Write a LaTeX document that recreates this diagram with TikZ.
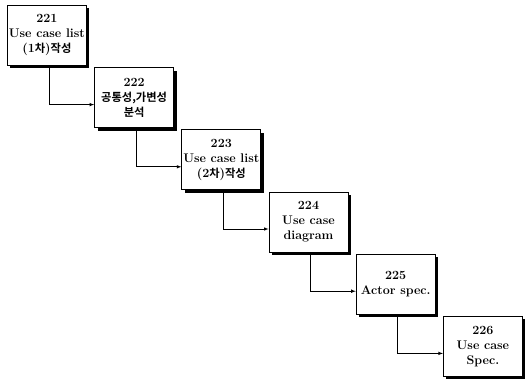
\documentclass[tikz,border=0pt]{standalone}
\usepackage{fontspec}
\newfontfamily\kr{Noto Sans CJK KR}[BoldFont={Noto Sans CJK KR Bold},Scale=0.9]
\usetikzlibrary{arrows,positioning,shadows}

\begin{document}
\begin{tikzpicture}[
  node distance=1.4pt and 7.4pt,
  task/.style={draw,line width=0.8pt,fill=white,minimum width=79pt,minimum height=60pt,
    align=center,inner sep=1pt,font=\bfseries\fontsize{12.5}{15}\selectfont,
    drop shadow={shadow xshift=3pt,shadow yshift=-3pt,fill=black,opacity=1}},
  flow/.style={line width=0.6pt,-latex}
]
  \useasboundingbox (0,0) rectangle (525pt,-379pt);
  \node[task,anchor=north west] (T1) at (7pt,-5pt) {221\\Use case list\\(1{\kr 차}){\kr 작성}};
  \node[task,below right=of T1] (T2) {222\\{\kr 공통성,가변성}\\{\kr 분석}};
  \node[task,below right=of T2] (T3) {223\\Use case list\\(2{\kr 차}){\kr 작성}};
  \node[task,below right=of T3] (T4) {224\\Use case\\diagram};
  \node[task,below right=of T4] (T5) {225\\Actor spec.};
  \node[task,below right=of T5] (T6) {226\\Use case\\Spec.};

  \draw[flow] ([xshift=2pt]T1.south) |- ([yshift=-7pt]T2.west);
  \draw[flow] ([xshift=2pt]T2.south) |- ([yshift=-7pt]T3.west);
  \draw[flow] ([xshift=2pt]T3.south) |- ([yshift=-7pt]T4.west);
  \draw[flow] ([xshift=2pt]T4.south) |- ([yshift=-7pt]T5.west);
  \draw[flow] ([xshift=2pt]T5.south) |- ([yshift=-7pt]T6.west);
\end{tikzpicture}
\end{document}
